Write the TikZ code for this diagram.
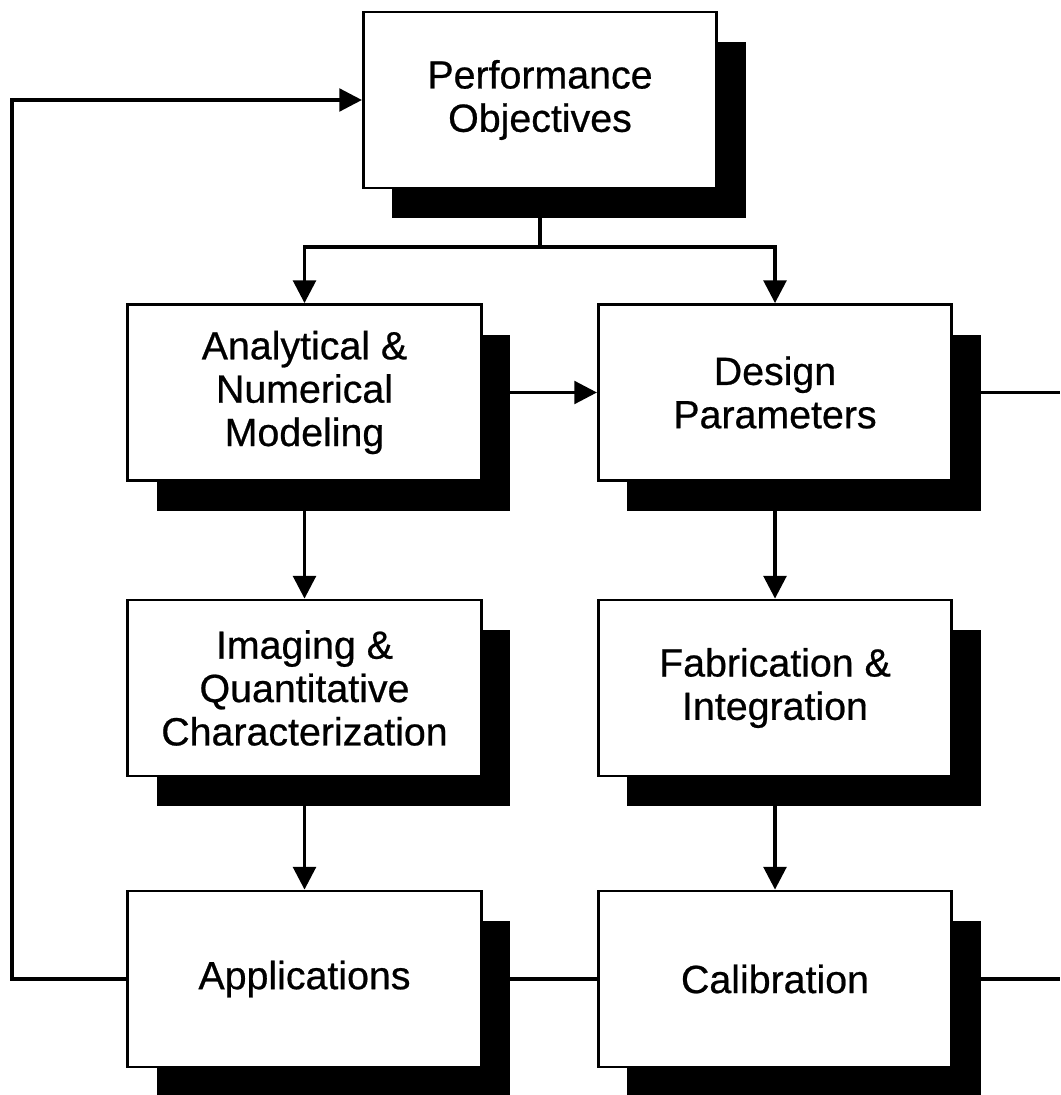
\documentclass[tikz,border=0pt]{standalone}
\usepackage{fontspec}
\setmainfont{Liberation Sans}
\newfontfamily\boxfont[FakeBold=0.6]{Liberation Sans}
\usetikzlibrary{arrows.meta,shadows}
\begin{document}
\begin{tikzpicture}[x=0.75pt,y=-0.75pt,
  box/.style={draw=black,line width=2.1pt,fill=white,minimum width=265pt,minimum height=132pt,
    align=center,inner sep=0pt,font=\boxfont\fontsize{29.5}{32.5}\selectfont,
    drop shadow={shadow xshift=21.75pt,shadow yshift=-22.5pt,opacity=1,fill=black}},
  conn/.style={line width=2.6pt},
  arr/.style={conn,-{Triangle[length=17pt,width=17pt]}}]
\useasboundingbox (0,0) rectangle (1060,1095);
\begin{scope}
\clip (0,0) rectangle (1060,1095);
\node[box] (po) at (540,100) {Performance\\Objectives};
\node[box] (an) at (304.5,392.5) {Analytical \&\\Numerical\\Modeling};
\node[box] (dp) at (775,392.5) {Design\\Parameters};
\node[box] (im) at (304.5,688) {Imaging \&\\Quantitative\\Characterization};
\node[box] (fb) at (775,688) {Fabrication \&\\Integration};
\node[box] (ap) at (304.5,979) {Applications};
\node[box] (cb) at (775,979) {Calibration};
\end{scope}
\coordinate (split) at (540,247);
\coordinate (dpout) at (1060,392.5);
\coordinate (cbout) at (1060,979);
\coordinate (lb) at (12,979);
\coordinate (lt) at (12,100);
\draw[conn] (po.south) -- (split);
\draw[arr] (split) -| (an.north);
\draw[arr] (split) -| (dp.north);
\draw[arr] (an.east) -- (dp.west);
\draw[conn] (dp.east) -- (dpout);
\draw[arr] (an.south) -- (im.north);
\draw[arr] (im.south) -- (ap.north);
\draw[arr] (dp.south) -- (fb.north);
\draw[arr] (fb.south) -- (cb.north);
\draw[conn] (ap.east) -- (cb.west);
\draw[conn] (cb.east) -- (cbout);
\draw[arr] (ap.west) -- (lb) -- (lt) -- (po.west);
\end{tikzpicture}
\end{document}
